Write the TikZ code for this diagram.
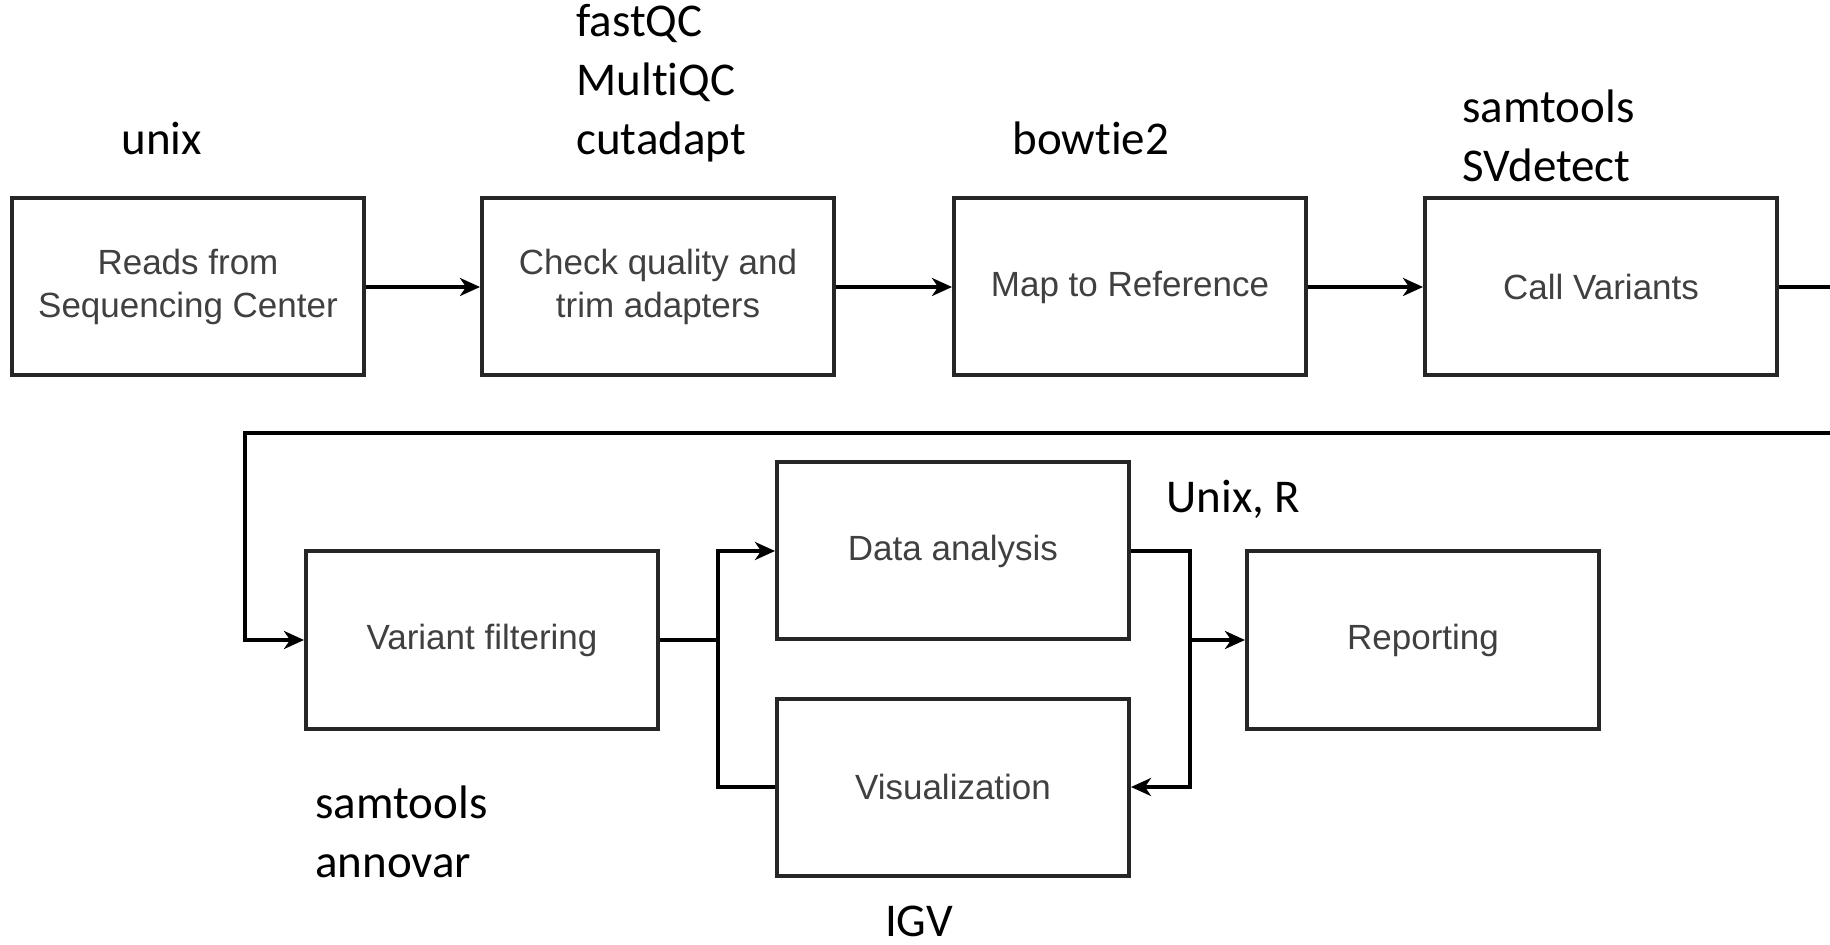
\documentclass[tikz,border=0pt]{standalone}
\usepackage{fontspec}
\setmainfont{Carlito}[Ligatures=NoCommon]
\newfontfamily\boxfont{Liberation Sans}
\usepackage{tikz}
\usetikzlibrary{positioning, arrows.meta}

\begin{document}
\begin{tikzpicture}[x=0.5pt,y=-0.5pt,
    stage/.style={draw=black!85, line width=2pt, minimum width=176pt, minimum height=88.5pt,
        align=center, inner sep=0pt, text=black!75, font=\boxfont\fontsize{17.5}{21.5}\selectfont},
    tool/.style={anchor=base west, align=left, inner sep=0pt, font=\fontsize{23.5}{29.5}\selectfont},
    link/.style={line width=1.7pt, black},
    flow/.style={link, -{Stealth[length=10pt,width=9pt,inset=3pt]}}]
        \useasboundingbox (0,0) rectangle (1830,945);
        \node [stage] (reads) at (188,287) {Reads from\\Sequencing Center};
        \node [stage] (trim) at (658,287) {Check quality and\\trim adapters};
        \node [stage] (mapref) at (1130,287) {Map to Reference};
        \node [stage] (callvar) at (1601,287) {Call Variants};
        \node [stage] (filter) at (482,640) {Variant filtering};
        \node [stage] (analysis) at (953,551) {Data analysis};
        \node [stage] (visual) at (953,787) {Visualization};
        \node [stage] (report) at (1423,640) {Reporting};
        \coordinate (outR) at (1830,287);
        \coordinate (backR) at (1830,433);
        \coordinate (backL) at (245,433);
        \coordinate (splitL) at (718,640);
        \coordinate (splitR) at (1190,640);
        \draw [flow] (reads.east) -- (trim.west);
        \draw [flow] (trim.east) -- (mapref.west);
        \draw [flow] (mapref.east) -- (callvar.west);
        \draw [link] (callvar.east) -- (outR);
        \draw [flow] (backR) -- (backL) |- (filter.west);
        \draw [link] (filter.east) -- (splitL);
        \draw [flow] (splitL) |- (analysis.west);
        \draw [link] (splitL) |- (visual.west);
        \draw [flow] (analysis.east) -| (splitR) |- (visual.east);
        \draw [flow] (splitR) -- (report.west);
        \node [tool] (t-unix) at (121,155) {unix};
        \node [tool] (t-qc) at (576,155) {fastQC\\MultiQC\\cutadapt};
        \node [tool] (t-bowtie) at (1012,155) {bowtie2};
        \node [tool] (t-call) at (1462,182) {samtools\\SVdetect};
        \node [tool] (t-unixr) at (1166,513) {Unix, R};
        \node [tool] (t-filter) at (315,877) {samtools\\annovar};
        \node [tool, anchor=base] (t-igv) at (919,936) {IGV};
\end{tikzpicture}
\end{document}
